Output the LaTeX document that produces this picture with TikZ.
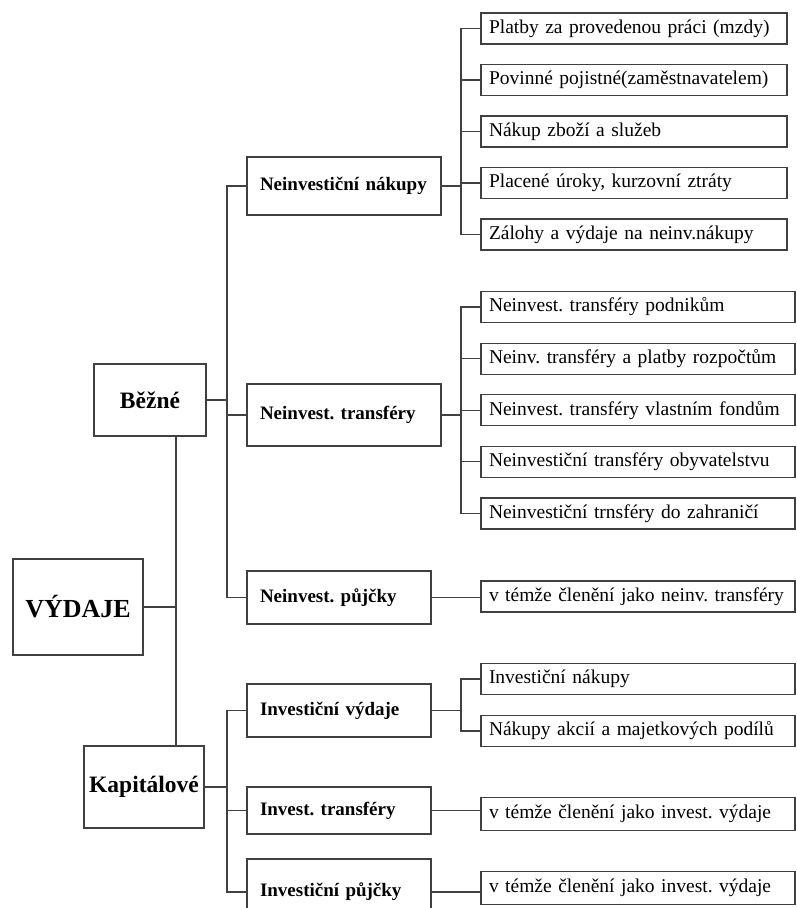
\documentclass[tikz,border=0pt]{standalone}
\usepackage{fontspec}
\setmainfont{Liberation Serif}
\usetikzlibrary{positioning,calc}

\begin{document}
\begin{tikzpicture}[x=1pt, y=-1pt,
    box/.style={draw=black!75, line width=1.2pt, inner ysep=0pt},
    leaf/.style={box, inner xsep=8pt, text width=#1, align=left, minimum height=31pt, font=\fontsize{19.5}{23}\selectfont\frenchspacing},
    mid/.style={box, inner xsep=13pt, text width=#1, align=left, font=\fontsize{19}{23}\selectfont\bfseries\frenchspacing},
    top/.style={box, inner xsep=2pt, align=center},
    conn/.style={draw=black!75, line width=1.2pt, line cap=rect}]
    \clip (0,0) rectangle (797,908);
    \fill[white] (0,0) rectangle (797,908);

    % Main
    \node[top, minimum width=130pt, minimum height=96pt, font=\fontsize{26}{30}\selectfont\bfseries] (vydaje) at (78,607) {VÝDAJE};
    \node[top, minimum width=112pt, minimum height=72pt, font=\fontsize{23.5}{28}\selectfont\bfseries] (bezne) at (150,400) {Běžné};
    \node[top, minimum width=120pt, minimum height=82pt, font=\fontsize{23.5}{28}\selectfont\bfseries] (kapital) at (144,787) {Kapitálové};

    % Second level
    \node[mid=168pt, minimum height=58pt] (nnak) at (344,186) {Neinvestiční nákupy};
    \node[mid=168pt, minimum height=62pt] (ntra) at (344,415) {Neinvest. transféry};
    \node[mid=158pt, minimum height=53pt] (npuj) at (339,597.5) {Neinvest. půjčky};
    \node[mid=158pt, minimum height=53pt] (ivyd) at (339,710.5) {Investiční výdaje};
    \node[mid=158pt, minimum height=47pt] (itra) at (339,810.5) {Invest. transféry};
    \node[mid=158pt, minimum height=66pt] (ipuj) at (339,892) {Investiční půjčky};

    % Leaves
    \foreach \t [count=\i] in {Platby za provedenou práci (mzdy), Povinné pojistné(zaměstnavatelem), Nákup zboží a služeb, {Placené úroky, kurzovní ztráty}, Zálohy a výdaje na neinv.nákupy}
        \node[leaf=290pt] (nnak\i) at (634, {28.5+51.5*(\i-1)}) {\t};
    \foreach \t [count=\i] in {Neinvest. transféry podnikům, Neinv. transféry a platby rozpočtům, Neinvest. transféry vlastním fondům, Neinvestiční transféry obyvatelstvu, Neinvestiční trnsféry do zahraničí}
        \node[leaf=298pt] (ntra\i) at (638, {307+51.6*(\i-1)}) {\t};
    \node[leaf=298pt] (npuj1) at (638,596.5) {v témže členění jako neinv. transféry};
    \node[leaf=298pt] (ivyd1) at (638,679) {Investiční nákupy};
    \node[leaf=298pt] (ivyd2) at (638,731) {Nákupy akcií a majetkových podílů};
    \node[leaf=298pt, minimum height=33pt] (itra1) at (638,814) {v témže členění jako invest. výdaje};
    \node[leaf=298pt, minimum height=33pt] (ipuj1) at (638,888) {v témže členění jako invest. výdaje};

    % Connectors
    \coordinate (trunk) at (176,0);
    \coordinate (busA) at (227,0);
    \coordinate (busB) at (461,0);
    \draw[conn] (bezne.south -| trunk) -- (kapital.north -| trunk);
    \draw[conn] (vydaje.east) -- (vydaje.east -| trunk);
    \draw[conn] (bezne.east) -- (bezne.east -| busA);
    \draw[conn] (kapital.east) -- (kapital.east -| busA);
    \draw[conn] (nnak.west -| busA) -- (npuj.west -| busA);
    \draw[conn] (ivyd.west -| busA) -- (ipuj.west -| busA);
    \foreach \n in {nnak,ntra,npuj,ivyd,itra,ipuj}
        \draw[conn] (\n.west -| busA) -- (\n.west);

    % Leaf buses
    \draw[conn] (nnak.east) -- (nnak.east -| busB);
    \draw[conn] (nnak1.west -| busB) -- (nnak5.west -| busB);
    \draw[conn] (ntra.east) -- (ntra.east -| busB);
    \draw[conn] (ntra1.west -| busB) -- (ntra5.west -| busB);
    \foreach \i in {1,...,5} {
        \draw[conn] (nnak\i.west -| busB) -- (nnak\i.west);
        \draw[conn] (ntra\i.west -| busB) -- (ntra\i.west);
    }
    \draw[conn] (ivyd.east) -- (ivyd.east -| busB);
    \draw[conn] (ivyd1.west -| busB) -- (ivyd2.west -| busB);
    \foreach \i in {1,2}
        \draw[conn] (ivyd\i.west -| busB) -- (ivyd\i.west);
    \draw[conn] (npuj.east) -- (npuj.east -| npuj1.west);
    \draw[conn] (itra.east) -- (itra.east -| itra1.west);
    \draw[conn] (ipuj.east) -- (ipuj.east -| ipuj1.west);
\end{tikzpicture}
\end{document}
